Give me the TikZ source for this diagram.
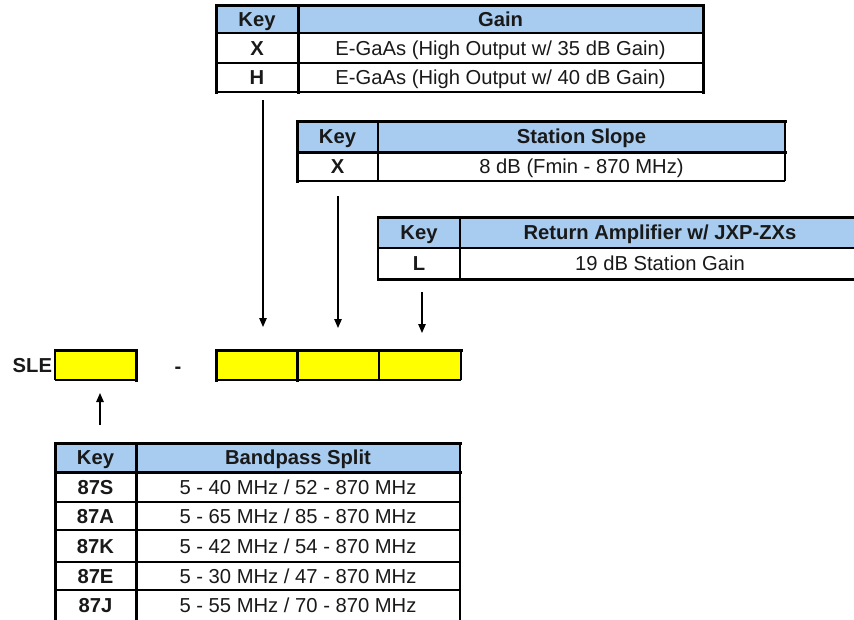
\documentclass[tikz,border=0pt]{standalone}
\usepackage{fontspec}
\setmainfont{Liberation Sans}
\usetikzlibrary{arrows.meta}
\definecolor{hdrblue}{RGB}{168,204,240}
\definecolor{yel}{RGB}{255,255,0}
\definecolor{txt}{RGB}{25,25,25}
\begin{document}
\begin{tikzpicture}[x=1pt,y=-1pt,
  cell/.style={anchor=north west,inner sep=0pt,outer sep=0pt,text=txt,
    text height=14.4pt,text depth=0pt,
    font=\fontsize{20.2}{23}\selectfont},
  hcell/.style={cell,fill=hdrblue,font=\fontsize{20.2}{23}\selectfont\bfseries},
  kcell/.style={cell,font=\fontsize{20.2}{23}\selectfont\bfseries},
  ybox/.style={anchor=north west,inner sep=0pt,outer sep=0pt,fill=yel},
  thk/.style={line width=3pt,line cap=rect},
  med/.style={line width=2pt},
  thn/.style={line width=1.1pt},
  arr/.style={line width=1.2pt,-{Triangle[length=9pt,width=7.5pt]}}]
\useasboundingbox (0,0) rectangle (854,619);
\clip (0,0) rectangle (854,619);

% ---------------- Gain table ----------------
\node[hcell,minimum width=82,minimum height=28] (gk) at (216,5) {Key};
\node[hcell,minimum width=405,minimum height=28] (gh) at (298,5) {Gain};
\node[kcell,minimum width=82,minimum height=30] (g1k) at (216,33) {X};
\node[cell,minimum width=405,minimum height=30] (g1v) at (298,33) {E-GaAs (High Output w/ 35 dB Gain)};
\node[kcell,minimum width=82,minimum height=29] (g2k) at (216,63) {H};
\node[cell,minimum width=405,minimum height=29] (g2v) at (298,63) {E-GaAs (High Output w/ 40 dB Gain)};
\draw[med] (gk.south west) -- (gh.south east);
\draw[thn] (g1k.south west) -- (g1v.south east);
\draw[thn] (g2k.south west) -- (g2v.south east);
\draw[thk] (g2k.south west) -- (gk.north west) -- (gh.north east) -- (g2v.south east);
\draw[thk] (gk.north east) -- (g2k.south east);

% ---------------- Station Slope table ----------------
\node[hcell,minimum width=81,minimum height=31] (sk) at (297,121) {Key};
\node[hcell,minimum width=407,minimum height=31] (sh) at (378,121) {Station Slope};
\node[kcell,minimum width=81,minimum height=29] (s1k) at (297,152) {X};
\node[cell,minimum width=407,minimum height=29] (s1v) at (378,152) {8 dB (Fmin - 870 MHz)};
\draw[thk] (sk.south west) -- (sh.south east);
\draw[thn] (s1k.south west) -- (s1v.south east);
\draw[thk] (s1k.south west) -- (sk.north west) -- (sh.north east);
\draw[thn] (sh.north east) -- (s1v.south east);
\draw[thn] (sk.north east) -- (s1k.south east);

% ---------------- Return Amplifier table ----------------
\node[hcell,minimum width=82,minimum height=31] (rk) at (378,217) {Key};
\node[hcell,minimum width=400,minimum height=31] (rh) at (460,217) {Return Amplifier w/ JXP-ZXs};
\node[kcell,minimum width=82,minimum height=31] (r1k) at (378,248) {L};
\node[cell,minimum width=400,minimum height=31] (r1v) at (460,248) {19 dB Station Gain};
\draw[thn] (rk.south west) -- (rh.south east);
\draw[thk] (rk.north west) -- (rh.north east);
\draw[thk] (r1k.south west) -- (r1v.south east);
\draw[thn] (rk.north west) -- (r1k.south west);
\draw[thn] (rk.north east) -- (r1k.south east);

% ---------------- Model number boxes ----------------
\node[kcell,anchor=east] (sle) at (52,365) {SLE};
\node[ybox,minimum width=81,minimum height=30] (b0) at (55,350) {};
\node[kcell,anchor=center] (dash) at (178,366) {-};
\node[ybox,minimum width=81,minimum height=30] (b1) at (216,350) {};
\node[ybox,minimum width=82,minimum height=30] (b2) at (297,350) {};
\node[ybox,minimum width=82,minimum height=30] (b3) at (379,350) {};
\draw[thn] (b0.north west) -- (b0.south west);
\draw[med] (b0.south west) -- (b0.south east);
\draw[thk] (b0.north west) -- (b0.north east) -- (b0.south east);
\draw[thk] (b1.south west) -- (b1.north west) -- (b3.north east);
\draw[thn] (b3.north east) -- (b3.south east);
\draw[med] (b1.south west) -- (b3.south east);
\draw[thk] (b2.north west) -- (b2.south west);
\draw[med] (b3.north west) -- (b3.south west);

% ---------------- Bandpass Split table ----------------
\node[hcell,minimum width=81,minimum height=29] (bk) at (55,443) {Key};
\node[hcell,minimum width=324,minimum height=29] (bh) at (136,443) {Bandpass Split};
\node[kcell,minimum width=81,minimum height=30] (p1k) at (55,472) {87S};
\node[cell,minimum width=324,minimum height=30] (p1v) at (136,472) {5 - 40 MHz / 52 - 870 MHz};
\node[kcell,minimum width=81,minimum height=28] (p2k) at (55,502) {87A};
\node[cell,minimum width=324,minimum height=28] (p2v) at (136,502) {5 - 65 MHz / 85 - 870 MHz};
\node[kcell,minimum width=81,minimum height=32] (p3k) at (55,530) {87K};
\node[cell,minimum width=324,minimum height=32] (p3v) at (136,530) {5 - 42 MHz / 54 - 870 MHz};
\node[kcell,minimum width=81,minimum height=28] (p4k) at (55,562) {87E};
\node[cell,minimum width=324,minimum height=28] (p4v) at (136,562) {5 - 30 MHz / 47 - 870 MHz};
\node[kcell,minimum width=81,minimum height=30] (p5k) at (55,590) {87J};
\node[cell,minimum width=324,minimum height=30] (p5v) at (136,590) {5 - 55 MHz / 70 - 870 MHz};
\draw[thk] (bk.south west) -- (bh.south east);
\draw[thn] (p1k.south west) -- (p1v.south east);
\draw[med] (p2k.south west) -- (p2v.south east);
\draw[med] (p3k.south west) -- (p3v.south east);
\draw[med] (p4k.south west) -- (p4v.south east);
\draw[thk] ([yshift=-10]p5k.south west) -- (bk.north west) -- (bh.north east);
\draw[med] (bh.north east) -- ([yshift=-10]p5v.south east);
\draw[thk] (bk.north east) -- ([yshift=-10]p5k.south east);

% ---------------- Connectors ----------------
\coordinate (ga) at (263,100);
\coordinate (sa) at (338,196);
\coordinate (ra) at (422,292);
\coordinate (pa) at (100,425);
\draw[arr,shorten >=23pt] (ga) -- (ga |- b1.north);
\draw[arr,shorten >=22pt] (sa) -- (sa |- b2.north);
\draw[arr,shorten >=17pt] (ra) -- (ra |- b3.north);
\draw[arr,shorten >=13pt] (pa) -- (pa |- b0.south);
\end{tikzpicture}
\end{document}
